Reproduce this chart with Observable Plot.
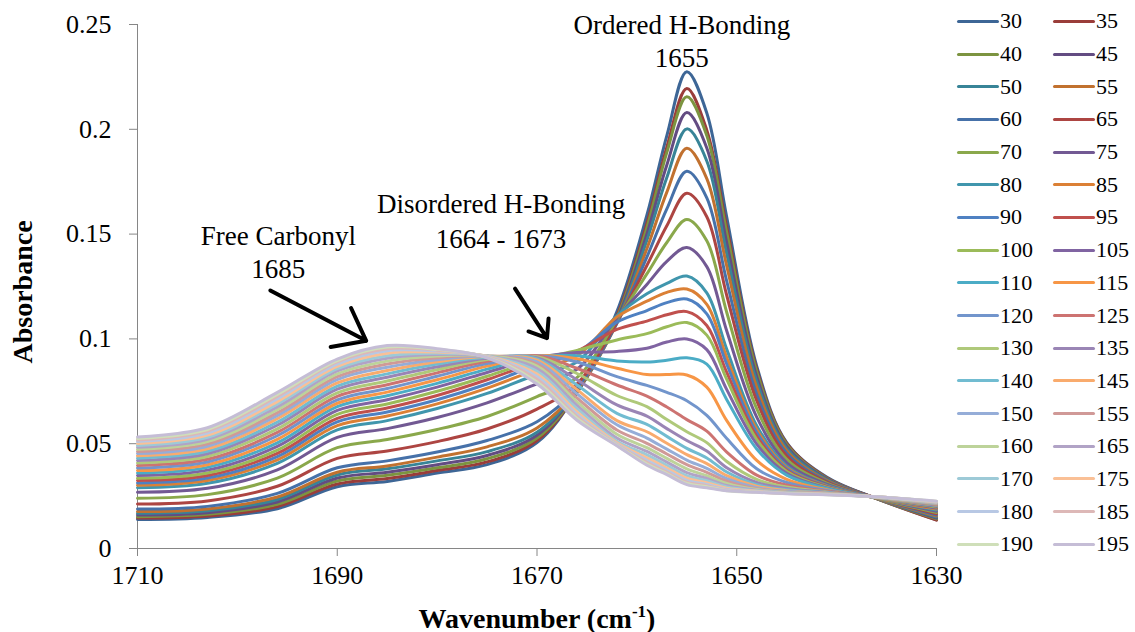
<!DOCTYPE html>
<html><head><meta charset="utf-8">
<script src="https://cdn.jsdelivr.net/npm/d3@7"></script>
<script src="https://cdn.jsdelivr.net/npm/@observablehq/plot@0.6"></script>
<style>
body{margin:0;background:#fff;}
#wrap{position:relative;width:1135px;height:632px;font-family:"Liberation Serif","Times New Roman",serif;color:#000;}
#legend{position:absolute;left:957px;top:5px;display:grid;grid-template-columns:96px 96px;}
.item{display:flex;align-items:center;height:32.7px;font-size:22px;line-height:1;}
.sw{width:42px;height:3px;border-radius:2px;margin-right:1px;}
#ytitle{position:absolute;left:23px;top:292px;transform:translate(-50%,-50%) rotate(-90deg);font-weight:bold;font-size:28px;white-space:nowrap;}
#xtitle{position:absolute;left:537px;top:618px;transform:translate(-50%,-50%);font-weight:bold;font-size:28px;white-space:nowrap;}
#xtitle sup{font-size:17px;vertical-align:11px;}
</style></head><body><div id="wrap"></div>
<script>
const wavenumbers = [1710, 1703, 1696, 1690, 1685, 1680, 1675, 1670, 1666, 1662, 1659, 1657, 1655, 1653, 1651, 1648, 1645, 1641, 1636, 1630];
const temperatures = [30,35,40,45,50,55,60,65,70,75,80,85,90,95,100,105,110,115,120,125,130,135,140,145,150,155,160,165,170,175,180,185,190,195];

const s30 = [.0138,.0148,.0190,.0295,.0320,.0360,.0400,.0505,.0745,.1130,.1590,.1970,.2275,.2078,.1580,.0870,.0505,.0341,.0238,.0137];
const s35 = [.0145,.0155,.0200,.0308,.0334,.0372,.0413,.0515,.0745,.1110,.1550,.1915,.2195,.1996,.1532,.0855,.0501,.0337,.0238,.0135];
const s40 = [.0152,.0163,.0211,.0322,.0349,.0385,.0428,.0527,.0745,.1100,.1530,.1890,.2155,.1970,.1506,.0843,.0496,.0335,.0238,.0141];
const s45 = [.0160,.0171,.0222,.0336,.0364,.0400,.0444,.0540,.0747,.1090,.1500,.1830,.2080,.1911,.1457,.0820,.0487,.0332,.0239,.0145];
const s50 = [.0168,.0180,.0234,.0351,.0380,.0418,.0462,.0555,.0750,.1080,.1470,.1770,.2002,.1849,.1406,.0797,.0478,.0329,.0239,.0150];
const s55 = [.0176,.0189,.0246,.0364,.0394,.0436,.0485,.0575,.0755,.1075,.1430,.1700,.1910,.1765,.1347,.0769,.0467,.0325,.0239,.0155];
const s60 = [.0188,.0201,.0263,.0385,.0418,.0460,.0515,.0605,.0765,.1075,.1390,.1620,.1800,.1673,.1275,.0736,.0454,.0321,.0240,.0160];
const s65 = [.0212,.0227,.0297,.0430,.0465,.0510,.0570,.0665,.0785,.1080,.1350,.1540,.1695,.1583,.1207,.0705,.0441,.0317,.0240,.0166];
const s70 = [.0240,.0257,.0336,.0481,.0520,.0568,.0630,.0725,.0815,.1090,.1310,.1460,.1570,.1468,.1126,.0667,.0426,.0312,.0240,.0172];
const s75 = [.0268,.0287,.0375,.0530,.0572,.0625,.0695,.0785,.0855,.1100,.1260,.1370,.1436,.1345,.1038,.0627,.0410,.0307,.0241,.0178];
const s80 = [.0290,.0311,.0406,.0566,.0610,.0668,.0740,.0830,.0890,.1110,.1215,.1265,.1300,.1220,.0950,.0586,.0394,.0302,.0241,.0184];
const s85 = [.0302,.0324,.0423,.0586,.0632,.0690,.0765,.0855,.0920,.1105,.1180,.1222,.1238,.1165,.0911,.0568,.0387,.0299,.0241,.0188];
const s90 = [.0313,.0336,.0438,.0604,.0651,.0710,.0785,.0875,.0935,.1080,.1135,.1173,.1190,.1119,.0879,.0553,.0381,.0297,.0242,.0192];
const s95 = [.0324,.0348,.0454,.0621,.0670,.0730,.0805,.0890,.0942,.1045,.1085,.1115,.1130,.1064,.0840,.0535,.0374,.0295,.0242,.0195];
const s100 = [.0335,.0360,.0469,.0640,.0689,.0750,.0822,.0900,.0945,.0995,.1025,.1058,.1078,.1018,.0807,.0520,.0368,.0292,.0242,.0198];
const s105 = [.0348,.0374,.0487,.0659,.0710,.0770,.0840,.0910,.0935,.0940,.0955,.0985,.1000,.0949,.0758,.0498,.0359,.0289,.0243,.0201];
const s110 = [.0360,.0387,.0504,.0677,.0729,.0788,.0856,.0915,.0920,.0895,.0890,.0898,.0910,.0880,.0710,.0475,.0350,.0286,.0243,.0204];
const s115 = [.0372,.0400,.0521,.0693,.0746,.0805,.0870,.0920,.0905,.0860,.0830,.0830,.0828,.0770,.0610,.0420,.0330,.0281,.0243,.0206];
const s120 = [.0384,.0413,.0538,.0709,.0763,.0822,.0882,.0920,.0890,.0820,.0778,.0745,.0705,.0635,.0525,.0380,.0315,.0277,.0244,.0208];
const s125 = [.0396,.0426,.0554,.0726,.0781,.0838,.0893,.0920,.0860,.0780,.0727,.0675,.0615,.0560,.0460,.0350,.0303,.0273,.0244,.0210];
const s130 = [.0408,.0439,.0571,.0743,.0799,.0853,.0902,.0915,.0835,.0730,.0677,.0615,.0557,.0505,.0415,.0330,.0293,.0270,.0244,.0212];
const s135 = [.0420,.0452,.0588,.0760,.0817,.0867,.0908,.0910,.0805,.0685,.0632,.0572,.0515,.0465,.0385,.0315,.0286,.0268,.0245,.0214];
const s140 = [.0431,.0464,.0603,.0775,.0833,.0880,.0912,.0905,.0780,.0645,.0592,.0535,.0478,.0432,.0365,.0305,.0280,.0266,.0245,.0215];
const s145 = [.0442,.0476,.0619,.0790,.0849,.0891,.0916,.0898,.0758,.0610,.0557,.0502,.0448,.0405,.0348,.0297,.0276,.0264,.0245,.0216];
const s150 = [.0453,.0488,.0634,.0806,.0865,.0901,.0918,.0890,.0738,.0590,.0527,.0474,.0422,.0382,.0333,.0290,.0273,.0263,.0245,.0217];
const s155 = [.0463,.0499,.0648,.0820,.0880,.0910,.0919,.0880,.0718,.0565,.0502,.0451,.0400,.0363,.0321,.0285,.0270,.0262,.0246,.0218];
const s160 = [.0473,.0510,.0662,.0833,.0894,.0918,.0919,.0870,.0700,.0545,.0481,.0430,.0380,.0347,.0310,.0281,.0268,.0261,.0246,.0219];
const s165 = [.0483,.0521,.0676,.0847,.0908,.0926,.0918,.0858,.0683,.0527,.0463,.0412,.0362,.0334,.0301,.0278,.0266,.0260,.0246,.0220];
const s170 = [.0492,.0531,.0689,.0858,.0920,.0932,.0918,.0845,.0667,.0512,.0447,.0397,.0348,.0323,.0294,.0275,.0265,.0259,.0246,.0221];
const s175 = [.0501,.0541,.0701,.0869,.0932,.0937,.0917,.0832,.0652,.0505,.0433,.0384,.0335,.0314,.0288,.0273,.0264,.0259,.0247,.0222];
const s180 = [.0510,.0551,.0714,.0880,.0944,.0942,.0916,.0820,.0640,.0499,.0421,.0373,.0325,.0306,.0283,.0271,.0263,.0258,.0247,.0223];
const s185 = [.0518,.0560,.0725,.0890,.0953,.0946,.0914,.0808,.0630,.0495,.0411,.0364,.0317,.0300,.0279,.0270,.0262,.0258,.0247,.0224];
const s190 = [.0525,.0568,.0735,.0897,.0961,.0950,.0912,.0795,.0621,.0492,.0403,.0357,.0310,.0295,.0276,.0269,.0262,.0257,.0247,.0225];
const s195 = [.0532,.0576,.0745,.0904,.0968,.0953,.0910,.0785,.0612,.0490,.0397,.0352,.0305,.0290,.0275,.0268,.0261,.0257,.0247,.0226];

const absorbance = [s30,s35,s40,s45,s50,s55,s60,s65,s70,s75,s80,s85,s90,s95,s100,s105,s110,s115,s120,s125,s130,s135,s140,s145,s150,s155,s160,s165,s170,s175,s180,s185,s190,s195];

const colors = ["#3D6696","#9A3D3A","#7C9440","#634C82","#388497","#C1712F",
  "#4671A9","#AD4542","#8AA84B","#725993","#4096AD","#DB8035",
  "#4F81C2","#C0504D","#9BBB59","#8064A2","#4BACC6","#F79646",
  "#7295CC","#CD7371","#AFC97A","#9A85B5","#71BCD1","#F9AB6D",
  "#95ADD8","#D09997","#BDD39A","#B1A3C6","#9DCAD7","#FAC096",
  "#B8C8E4","#DDB8B7","#CFDFB9","#C5BDD6"];

const xTicks = [1710, 1690, 1670, 1650, 1630];
const yTicks = [0, 0.05, 0.1, 0.15, 0.2, 0.25];
const yTickLabels = ["0", "0.05", "0.1", "0.15", "0.2", "0.25"];

const notes = [
  {wn: 1655.5, a: 0.2495, label: "Ordered H-Bonding"},
  {wn: 1655.5, a: 0.2337, label: "1655"},
  {wn: 1673.6, a: 0.1643, label: "Disordered H-Bonding"},
  {wn: 1673.6, a: 0.1475, label: "1664 - 1673"},
  {wn: 1695.9, a: 0.1490, label: "Free Carbonyl"},
  {wn: 1695.9, a: 0.1330, label: "1685"}
];
const arrows = [
  {x1: 1696.7, y1: 0.1231, x2: 1687.1, y2: 0.0991},
  {x1: 1672.2, y1: 0.1240, x2: 1669.0, y2: 0.1004}
];

const table = temperatures.flatMap((t, i) => wavenumbers.map((w, j) => ({t, w, a: absorbance[i][j]})));

const gray = "#868686";
const chart = Plot.plot({
  width: 1135, height: 632,
  marginLeft: 137, marginRight: 199, marginTop: 24, marginBottom: 84,
  x: {domain: [1710, 1630]},
  y: {domain: [0, 0.25]},
  color: {type: "ordinal", domain: temperatures, range: colors},
  style: {fontFamily: "'Liberation Serif', 'Times New Roman', serif", fontSize: "26px", color: "black", background: "white", overflow: "visible"},
  marks: [
    Plot.ruleX([1710], {stroke: gray, strokeWidth: 1}),
    Plot.ruleY([0], {stroke: gray, strokeWidth: 1}),
    Plot.axisY(yTicks, {tickSize: 8, tickPadding: 18, stroke: gray, fill: "black", fontSize: 26, label: null, tickFormat: (d, i) => yTickLabels[i]}),
    Plot.axisX(xTicks, {tickSize: 8, tickPadding: 9, stroke: gray, fill: "black", fontSize: 26, label: null, tickFormat: d => String(d)}),
    Plot.line(table, {x: "w", y: "a", z: "t", stroke: "t", strokeWidth: 3, curve: "catmull-rom"}),
    Plot.text(notes, {x: "wn", y: "a", text: "label", fontSize: 27, fill: "black"}),
    Plot.arrow(arrows, {x1: "x1", y1: "y1", x2: "x2", y2: "y2", stroke: "black", strokeWidth: 4, headLength: 20, headAngle: 75})
  ]
});

const wrap = document.getElementById("wrap");
wrap.appendChild(chart);

const legend = document.createElement("div");
legend.id = "legend";
temperatures.forEach((t, i) => {
  const item = document.createElement("div");
  item.className = "item";
  const sw = document.createElement("span");
  sw.className = "sw";
  sw.style.background = colors[i];
  const lab = document.createElement("span");
  lab.textContent = String(t);
  item.appendChild(sw);
  item.appendChild(lab);
  legend.appendChild(item);
});
wrap.appendChild(legend);

const yt = document.createElement("div");
yt.id = "ytitle"; yt.textContent = "Absorbance";
wrap.appendChild(yt);
const xt = document.createElement("div");
xt.id = "xtitle"; xt.innerHTML = "Wavenumber (cm<sup>-1</sup>)";
wrap.appendChild(xt);
</script>
</body></html>
